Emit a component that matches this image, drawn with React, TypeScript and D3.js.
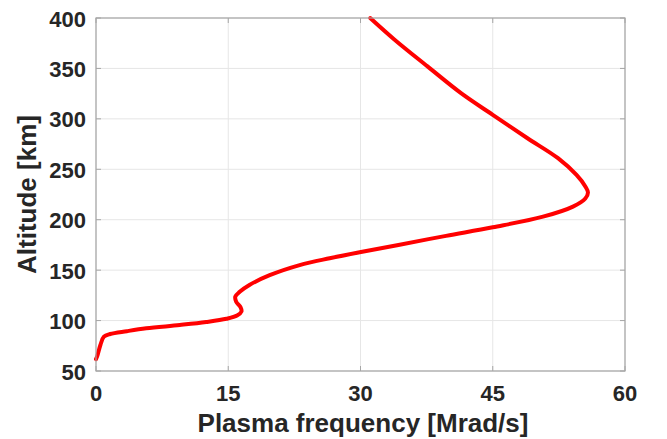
import React from "react";
import * as d3 from "d3";

const xTicks = [0, 15, 30, 45, 60];
const yTicks = [50, 100, 150, 200, 250, 300, 350, 400];
const xLabel = "Plasma frequency [Mrad/s]";
const yLabel = "Altitude [km]";

// Plasma frequency profile (Mrad/s) vs altitude (km)
const freq = [0.0, 0.15, 0.5, 0.9, 1.6, 3.5, 5.7, 9.5, 12.5, 14.8, 16.0, 16.5, 16.4, 15.9, 15.8, 16.3, 17.4, 19.7, 23.1, 26.5, 29.9, 34.3, 39.7, 45.0, 50.7, 54.1, 55.5, 55.8, 55.5, 54.5, 52.4, 48.9, 45.0, 41.4, 37.6, 33.8, 31.1];
const alt = [61.8, 65, 75.8, 84, 86.7, 89.5, 92.3, 95.6, 98.6, 101.8, 105, 109, 113, 118.7, 123.7, 128.5, 135.3, 145, 155, 161.8, 167.8, 175, 184, 192.5, 203, 213, 221, 227, 233, 244.4, 261, 281, 304, 325.5, 352, 379, 400];

const W = 667, H = 439;
const M = { left: 96, top: 18, right: 625, bottom: 371 };
const FONT = "'Liberation Sans', Arial, Helvetica, sans-serif";
const TXT = "#262626";

export default function App() {
  const x = d3.scaleLinear().domain([0, 60]).range([M.left, M.right]);
  const y = d3.scaleLinear().domain([50, 400]).range([M.bottom, M.top]);
  const pts: [number, number][] = freq.map((f, i) => [f, alt[i]]);
  const line = d3.line<[number, number]>()
    .x(d => x(d[0]))
    .y(d => y(d[1]))
    .curve(d3.curveCatmullRom.alpha(0.5));
  const tl = 5;
  return (
    <svg width={W} height={H} style={{ position: "absolute", left: 0, top: 0, background: "#fff" }}>
      <rect x={0} y={0} width={W} height={H} fill="#fff" />
      {xTicks.map(t => (
        <line key={"gx" + t} x1={x(t)} x2={x(t)} y1={M.top} y2={M.bottom} stroke="#e6e6e6" strokeWidth={1} />
      ))}
      {yTicks.map(t => (
        <line key={"gy" + t} x1={M.left} x2={M.right} y1={y(t)} y2={y(t)} stroke="#e6e6e6" strokeWidth={1} />
      ))}
      <path d={line(pts) || ""} fill="none" stroke="#ff0000" strokeWidth={4} strokeLinejoin="round" strokeLinecap="round" />
      <rect x={M.left} y={M.top} width={M.right - M.left} height={M.bottom - M.top} fill="none" stroke="#a6a6a6" strokeWidth={1.2} />
      {xTicks.map(t => (
        <g key={"tx" + t}>
          <line x1={x(t)} x2={x(t)} y1={M.bottom} y2={M.bottom - tl} stroke="#a6a6a6" />
          <line x1={x(t)} x2={x(t)} y1={M.top} y2={M.top + tl} stroke="#a6a6a6" />
          <text x={x(t)} y={401} textAnchor="middle" fontFamily={FONT} fontWeight="bold" fontSize={22} fill={TXT}>{t}</text>
        </g>
      ))}
      {yTicks.map(t => (
        <g key={"ty" + t}>
          <line x1={M.left} x2={M.left + tl} y1={y(t)} y2={y(t)} stroke="#a6a6a6" />
          <line x1={M.right} x2={M.right - tl} y1={y(t)} y2={y(t)} stroke="#a6a6a6" />
          <text x={86} y={y(t) + 8.5} textAnchor="end" fontFamily={FONT} fontWeight="bold" fontSize={22} fill={TXT}>{t}</text>
        </g>
      ))}
      <text x={363} y={432} textAnchor="middle" fontFamily={FONT} fontWeight="bold" fontSize={26} fill={TXT}>{xLabel}</text>
      <text transform={`translate(36,${(M.top + M.bottom) / 2}) rotate(-90)`} textAnchor="middle" fontFamily={FONT} fontWeight="bold" fontSize={26} fill={TXT}>{yLabel}</text>
    </svg>
  );
}
